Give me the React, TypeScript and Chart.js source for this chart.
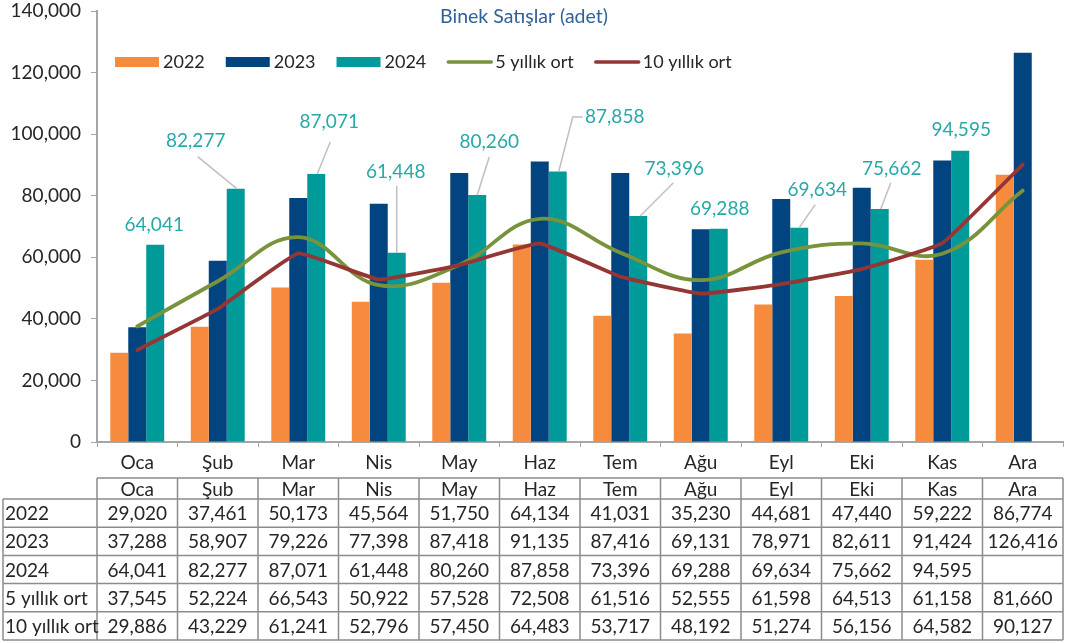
import React, { useEffect, useRef } from 'react';
import { Chart, registerables } from 'chart.js';

Chart.register(...registerables);

const months = ['Oca', 'Şub', 'Mar', 'Nis', 'May', 'Haz', 'Tem', 'Ağu', 'Eyl', 'Eki', 'Kas', 'Ara'];
const sales2022 = [29020, 37461, 50173, 45564, 51750, 64134, 41031, 35230, 44681, 47440, 59222, 86774];
const sales2023 = [37288, 58907, 79226, 77398, 87418, 91135, 87416, 69131, 78971, 82611, 91424, 126416];
const sales2024 = [64041, 82277, 87071, 61448, 80260, 87858, 73396, 69288, 69634, 75662, 94595, null];
const avg5 = [37545, 52224, 66543, 50922, 57528, 72508, 61516, 52555, 61598, 64513, 61158, 81660];
const avg10 = [29886, 43229, 61241, 52796, 57450, 64483, 53717, 48192, 51274, 56156, 64582, 90127];
const seriesNames = ['2022', '2023', '2024', '5 yıllık ort', '10 yıllık ort'];
const chartTitle = 'Binek Satışlar (adet)';
const yMin = 0;
const yMax = 140000;
const yStep = 20000;

// label placement for the 2024 data labels, relative to the bar top (pixels)
const labelOffsets: [number, number][] = [
  [-1, -20], [-40, -48], [13, -52], [-1, -81], [12, -53], [57, -55],
  [36, -47], [1, -20], [18, -38], [12, -40], [1, -21], [0, 0],
];
// leader lines, relative to the bar top (pixels)
const leaders: ([number, number][] | null)[] = [
  null,
  [[-38, -32], [1, 0]],
  [[14, -32], [1, 0]],
  [[0, -67], [0, 0]],
  [[12, -38], [0, 0]],
  [[25, -54.5], [15, -54.5], [1, 0]],
  [[35, -33], [2, 0]],
  null,
  [[16, -23], [0, 0]],
  [[11, -26], [1, 0]],
  null,
  null,
];

const FONT = 'Lato, "Open Sans", sans-serif';
const C_ORANGE = '#F68B3D';
const C_NAVY = '#02447F';
const C_TEAL = '#009A98';
const C_GREEN = '#77933C';
const C_RED = '#943634';
const C_GRID = '#a6a6a6';
const C_TEXT = '#262626';
const fmt = (v: number | null) => (v == null ? '' : v.toLocaleString('en-US'));

const overlayPlugin = {
  id: 'overlay',
  afterDatasetsDraw(chart: any) {
    const ctx = chart.ctx;
    const meta = chart.getDatasetMeta(2);
    ctx.save();
    ctx.font = `19px ${FONT}`;
    ctx.fillStyle = '#27a9a7';
    ctx.textAlign = 'center';
    ctx.textBaseline = 'middle';
    meta.data.forEach((el: any, i: number) => {
      const v = sales2024[i];
      if (v == null) return;
      const [dx, dy] = labelOffsets[i];
      const ld = leaders[i];
      if (ld) {
        ctx.beginPath();
        ctx.strokeStyle = '#bfbfbf';
        ctx.lineWidth = 1.5;
        ld.forEach(([px, py], k) => {
          if (k === 0) ctx.moveTo(el.x + px, el.y + py);
          else ctx.lineTo(el.x + px, el.y + py);
        });
        ctx.stroke();
      }
      ctx.fillText(fmt(v), el.x + dx, el.y + dy);
    });
    ctx.restore();
  },
  afterDraw(chart: any) {
    const ctx = chart.ctx;
    const xs = chart.scales.x;
    ctx.save();
    // title
    ctx.font = `19.5px ${FONT}`;
    ctx.fillStyle = '#2f619a';
    ctx.textAlign = 'center';
    ctx.textBaseline = 'middle';
    ctx.fillText(chartTitle, 524, 17);

    // legend
    ctx.font = `18px ${FONT}`;
    ctx.textAlign = 'left';
    let lx = 115;
    const ly = 62;
    chart.data.datasets.forEach((ds: any) => {
      if (ds.type === 'line') {
        ctx.beginPath();
        ctx.strokeStyle = ds.borderColor;
        ctx.lineWidth = 3.5;
        ctx.lineCap = 'round';
        ctx.moveTo(lx + 1, ly);
        ctx.lineTo(lx + 44, ly);
        ctx.stroke();
      } else {
        ctx.fillStyle = ds.backgroundColor;
        ctx.fillRect(lx, ly - 5, 44, 10);
      }
      ctx.fillStyle = C_TEXT;
      ctx.fillText(ds.label, lx + 48, ly);
      lx += 48 + ctx.measureText(ds.label).width + 21;
    });

    // data table
    const n = months.length;
    const left = xs.left;
    const right = xs.right;
    const cw = (right - left) / n;
    const top = xs.bottom;
    const headBottom = top + 21;
    const bottom = chart.height - 3;
    const rowH = (bottom - headBottom) / 5;
    const tableLeft = 3;
    ctx.strokeStyle = '#8c8c8c';
    ctx.lineWidth = 1.5;
    ctx.lineCap = 'butt';
    ctx.beginPath();
    ctx.moveTo(left, top);
    ctx.lineTo(right, top);
    for (let k = 0; k <= 5; k++) {
      const y = headBottom + k * rowH;
      ctx.moveTo(tableLeft, y);
      ctx.lineTo(right, y);
    }
    for (let i = 0; i <= n; i++) {
      const x = left + i * cw;
      ctx.moveTo(x, top);
      ctx.lineTo(x, bottom);
    }
    ctx.moveTo(tableLeft, headBottom);
    ctx.lineTo(tableLeft, bottom);
    ctx.stroke();

    ctx.fillStyle = C_TEXT;
    ctx.font = `19px ${FONT}`;
    ctx.textBaseline = 'middle';
    ctx.textAlign = 'center';
    months.forEach((m, i) => ctx.fillText(m, left + (i + 0.5) * cw, (top + headBottom) / 2 + 1));
    const rows = [sales2022, sales2023, sales2024, avg5, avg10];
    rows.forEach((r, k) => {
      const cy = headBottom + (k + 0.5) * rowH + 1;
      ctx.textAlign = 'left';
      ctx.fillText(seriesNames[k], 5, cy);
      ctx.textAlign = 'center';
      r.forEach((v, i) => ctx.fillText(fmt(v as number | null), left + (i + 0.5) * cw, cy));
    });
    ctx.restore();
  },
};

export default function App() {
  const ref = useRef<HTMLCanvasElement>(null);
  useEffect(() => {
    document.body.style.margin = '0';
    const chart = new Chart(ref.current as HTMLCanvasElement, {
      type: 'bar',
      data: {
        labels: months,
        datasets: [
          { type: 'bar', label: seriesNames[0], data: sales2022, backgroundColor: C_ORANGE, order: 2 },
          { type: 'bar', label: seriesNames[1], data: sales2023, backgroundColor: C_NAVY, order: 2 },
          { type: 'bar', label: seriesNames[2], data: sales2024, backgroundColor: C_TEAL, order: 2 },
          {
            type: 'line', label: seriesNames[3], data: avg5, borderColor: C_GREEN, backgroundColor: C_GREEN,
            borderWidth: 3.8, pointRadius: 0, tension: 0.4, order: 1, borderCapStyle: 'round', borderJoinStyle: 'round',
          },
          {
            type: 'line', label: seriesNames[4], data: avg10, borderColor: C_RED, backgroundColor: C_RED,
            borderWidth: 3.8, pointRadius: 0, tension: 0.1, order: 0, borderCapStyle: 'round', borderJoinStyle: 'round',
          },
        ] as any,
      },
      options: {
        responsive: false,
        animation: false,
        datasets: { bar: { categoryPercentage: 0.67, barPercentage: 1 } },
        layout: { padding: { left: 0, top: 11, right: 7, bottom: 165 } },
        plugins: { legend: { display: false }, title: { display: false }, tooltip: { enabled: false } },
        scales: {
          x: {
            grid: { drawOnChartArea: false, tickLength: 5, color: C_GRID, offset: true },
            border: { color: C_GRID, width: 2 },
            ticks: { font: { family: FONT, size: 19 }, color: C_TEXT, padding: 4 },
            afterFit: (s: any) => { s.height = 36; s.paddingLeft = 0; s.paddingRight = 0; },
          },
          y: {
            min: yMin,
            max: yMax,
            grid: { drawOnChartArea: false, tickLength: 6, color: C_GRID },
            border: { color: C_GRID, width: 2 },
            ticks: {
              stepSize: yStep,
              font: { family: FONT, size: 19 },
              color: C_TEXT,
              padding: 10,
              callback: (v: any) => Number(v).toLocaleString('en-US'),
            },
            afterFit: (s: any) => { s.width = 97; s.paddingTop = 0; s.paddingBottom = 0; },
          },
        },
      } as any,
      plugins: [overlayPlugin],
    });
    return () => chart.destroy();
  }, []);
  return (
    <div style={{ width: 1070, height: 643 }}>
      <canvas ref={ref} width={1070} height={643} />
    </div>
  );
}
